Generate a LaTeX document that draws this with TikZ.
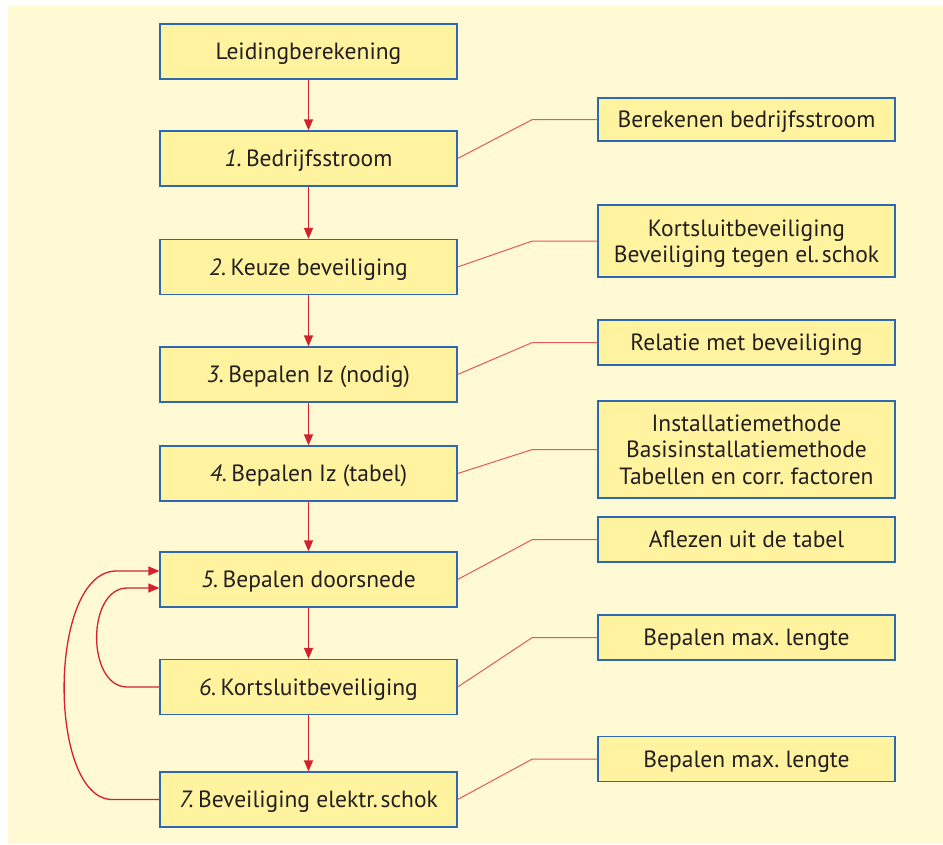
\documentclass[tikz,border=0pt]{standalone}
\usepackage{fontspec}
\setmainfont{PT Sans}
\usetikzlibrary{arrows.meta}
\definecolor{bgc}{HTML}{FFF9D4}
\definecolor{boxfill}{HTML}{FFF3A0}
\definecolor{boxblue}{HTML}{2E68B0}
\definecolor{arrred}{HTML}{D2232D}
\definecolor{linkred}{HTML}{E05A5E}
\definecolor{txt}{HTML}{231F20}
\newcommand{\nr}[1]{{\itshape #1.}\hspace{0.18em}}
\begin{document}
\begin{tikzpicture}[x=1pt,y=-1pt,
  mainbox/.style={draw=boxblue, fill=boxfill, line width=1.3pt, minimum width=297pt,
    minimum height=55pt, inner sep=0pt, text=txt, align=center, text depth=0pt,
    font=\fontsize{23.5}{26.5}\selectfont\frenchspacing},
  sidebox/.style={mainbox, minimum height=#1},
  flow/.style={draw=arrred, line width=1.3pt, -{Triangle[length=11pt,width=9pt]}},
  link/.style={draw=linkred, line width=1pt}]
\useasboundingbox (0,0) rectangle (943,844);
\fill[bgc] (8,6) rectangle (943,844);
% main column
\node[mainbox] (m0) at (308.5,51.5) {Leidingberekening};
\node[mainbox] (m1) at (308.5,158.5) {\nr{1}Bedrijfsstroom};
\node[mainbox] (m2) at (308.5,267) {\nr{2}Keuze beveiliging};
\node[mainbox] (m3) at (308.5,374.5) {\nr{3}Bepalen Iz (nodig)};
\node[mainbox] (m4) at (308.5,473.5) {\nr{4}Bepalen Iz (tabel)};
\node[mainbox] (m5) at (308.5,579.5) {\nr{5}Bepalen doorsnede};
\node[mainbox] (m6) at (308.5,687) {\nr{6}Kortsluitbeveiliging};
\node[mainbox] (m7) at (308.5,799.5) {\nr{7}Beveiliging elektr.\hspace{0.12em}schok};
% side column
\node[sidebox=43pt] (r1) at (746.5,119.5) {Berekenen bedrijfsstroom};
\node[sidebox=72pt] (r2) at (746.5,241) {Kortsluitbeveiliging\\Beveiliging tegen el.\hspace{0.12em}schok};
\node[sidebox=45pt] (r3) at (746.5,342.5) {Relatie met beveiliging};
\node[sidebox=97pt] (r4) at (746.5,449.5) {Installatiemethode\\Basisinstallatiemethode\\Tabellen en corr. factoren};
\node[sidebox=45pt] (r5) at (746.5,539.5) {Aflezen uit de tabel};
\node[sidebox=45pt] (r6) at (746.5,637.5) {Bepalen max. lengte};
\node[sidebox=45pt] (r7) at (746.5,759) {Bepalen max. lengte};
% flow arrows
\foreach \a/\b in {m0/m1,m1/m2,m2/m3,m3/m4,m4/m5,m5/m6,m6/m7}
  \draw[flow] (\a.south) -- (\b.north);
% links
\foreach \i in {1,...,7}
  \draw[link] (m\i.east) -- ([xshift=-65pt]r\i.west) -- (r\i.west);
% loops
\coordinate (i1) at ([xshift=-32pt]m6.west);
\coordinate (i2) at ([xshift=-32pt,yshift=-8.5pt]m5.west);
\draw[flow] (m6.west) -- (i1) .. controls ([xshift=-41pt]i1) and ([xshift=-41pt]i2) .. (i2) -- ([yshift=-8.5pt]m5.west);
\coordinate (o1) at ([xshift=-47pt]m7.west);
\coordinate (o2) at ([xshift=-43pt,yshift=8.5pt]m5.west);
\draw[flow] (m7.west) -- (o1) .. controls ([xshift=-65pt]o1) and ([xshift=-69pt]o2) .. (o2) -- ([yshift=8.5pt]m5.west);
\end{tikzpicture}
\end{document}
